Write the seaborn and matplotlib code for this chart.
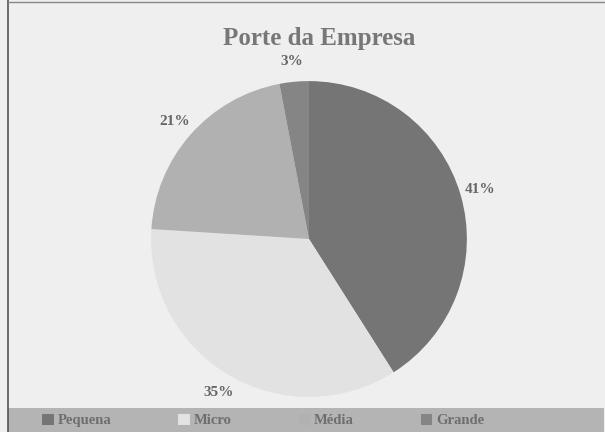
import matplotlib
matplotlib.use("Agg")
import matplotlib.pyplot as plt
import seaborn as sns
from matplotlib.patches import Rectangle
from matplotlib.lines import Line2D

categories = ["Pequena", "Micro", "Média", "Grande"]
values = [41, 35, 21, 3]
colors = ["#757575", "#e2e2e2", "#b1b1b1", "#858585"]
title = "Porte da Empresa"

sns.set_theme(style="white")
plt.rcParams['font.family'] = ['Liberation Serif', 'DejaVu Serif']

fig = plt.figure(figsize=(6.05, 4.32), dpi=100)
fig.patch.set_facecolor("#efefef")

# legend band
fig.patches.append(Rectangle((0.013, 0.0), 0.985, 0.056, transform=fig.transFigure,
                             facecolor="#b4b4b4", edgecolor="none", zorder=0))
# scan border lines
fig.add_artist(Line2D([0.013, 0.013], [0, 1], transform=fig.transFigure, color="#555555", lw=1.2))
fig.add_artist(Line2D([0.013, 1.0], [0.995, 0.995], transform=fig.transFigure, color="#888888", lw=1.0))

ax = fig.add_axes([0.2497, 0.081, 0.522, 0.7315])
ax.set_facecolor("none")
wedges, texts = ax.pie(values, colors=colors, startangle=90, counterclock=False,
                       labels=[f"{v}%" for v in values], labeldistance=1.13,
                       textprops=dict(color="#666666", fontsize=11, fontweight="bold"),
                       wedgeprops=dict(linewidth=0))
for t in texts:
    t.set_ha("center")
    t.set_va("center")
ax.set_xlim(-1, 1)
ax.set_ylim(-1, 1)
ax.set_aspect("equal")
ax.axis("off")

fig.text(0.527, 0.91, title, ha="center", va="center", fontsize=18,
         fontweight="bold", color="#777777")

handles = [Rectangle((0, 0), 1, 1, facecolor=c, edgecolor="none") for c in colors]
leg = fig.legend(handles, categories, loc="center", bbox_to_anchor=(0.435, 0.027), ncol=4,
                 frameon=False, columnspacing=4.6, handlelength=0.8, handleheight=0.8,
                 handletextpad=0.25, prop=dict(weight="bold", size=10.5))
for t in leg.get_texts():
    t.set_color("#6e6e6e")

fig.savefig("out.png", dpi=100, facecolor=fig.get_facecolor())
